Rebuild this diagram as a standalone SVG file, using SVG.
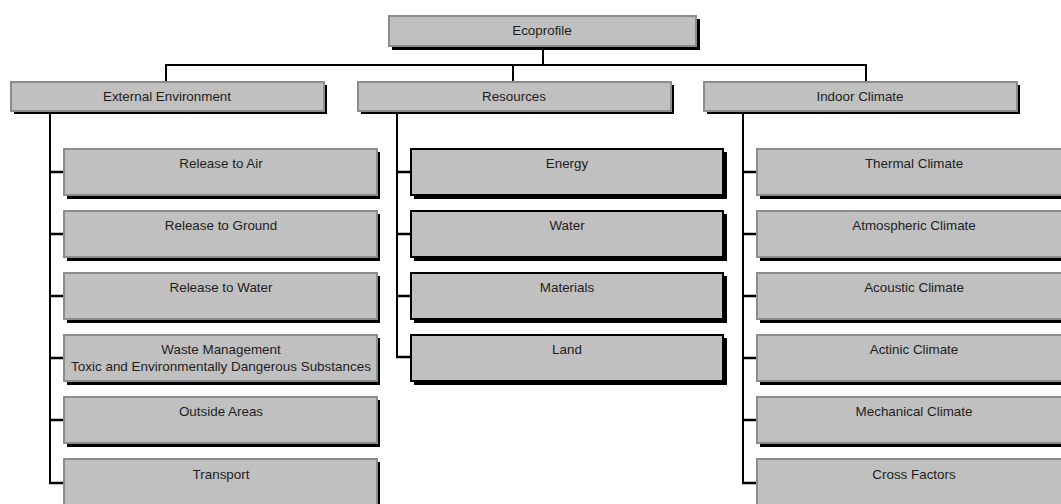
<svg xmlns="http://www.w3.org/2000/svg" width="1061" height="504" viewBox="0 0 1061 504">
<style>
.sh{fill:#000}
.bx{fill:#c0c0c0;stroke:#8c8c8c;stroke-width:2}
.bk{fill:#c0c0c0;stroke:#000;stroke-width:2}
.t{font-family:"Liberation Sans",Arial,sans-serif;font-size:13.4px;fill:#1e1e1e;text-anchor:middle}
.c{stroke:#000;stroke-width:2;fill:none}
.b{stroke:#000;stroke-width:2.6;fill:none}
</style>
<rect width="1061" height="504" fill="#fff"/>
<g id="connectors">
<path class="c" d="M543 47V65M166 65H866M166 64V82M513 64V82M866 64V82"/>
<path class="c" d="M50 112V484M397 112V357M743 112V484"/>
<path class="b" d="M49 172H64M49 234H64M49 296H64M49 358H64M49 420H64M49 483H64"/>
<path class="b" d="M396 172H411M396 234H411M396 296H411M396 357H411"/>
<path class="b" d="M742 172H757M742 234H757M742 296H757M742 358H757M742 420H757M742 483H757"/>
</g>
<g id="ecoprofile"><rect class="sh" x="392" y="19" width="308" height="31"/><rect class="bx" x="389" y="16" width="307" height="30"/><text class="t" x="542" y="35">Ecoprofile</text></g>
<g id="external"><rect class="sh" x="14" y="85" width="313" height="29"/><rect class="bx" x="11" y="82" width="313" height="29"/><text class="t" x="167" y="101">External Environment</text></g>
<g id="resources"><rect class="sh" x="361" y="85" width="313" height="29"/><rect class="bx" x="358" y="82" width="313" height="29"/><text class="t" x="514" y="101">Resources</text></g>
<g id="indoor"><rect class="sh" x="707" y="85" width="313" height="29"/><rect class="bx" x="704" y="82" width="313" height="29"/><text class="t" x="860" y="101">Indoor Climate</text></g>

<g id="air"><rect class="sh" x="67" y="152" width="313" height="47"/><rect class="bx" x="64" y="149" width="313" height="46"/><text class="t" x="221" y="168">Release to Air</text></g>
<g id="ground"><rect class="sh" x="67" y="214" width="313" height="47"/><rect class="bx" x="64" y="211" width="313" height="46"/><text class="t" x="221" y="230">Release to Ground</text></g>
<g id="waterrel"><rect class="sh" x="67" y="276" width="313" height="47"/><rect class="bx" x="64" y="273" width="313" height="46"/><text class="t" x="221" y="292">Release to Water</text></g>
<g id="waste"><rect class="sh" x="67" y="338" width="313" height="47"/><rect class="bx" x="64" y="335" width="313" height="46"/><text class="t" x="221" y="354">Waste Management</text><text class="t" x="221" y="371" textLength="300" lengthAdjust="spacingAndGlyphs">Toxic and Environmentally Dangerous Substances</text></g>
<g id="outside"><rect class="sh" x="67" y="400" width="313" height="47"/><rect class="bx" x="64" y="397" width="313" height="46"/><text class="t" x="221" y="416">Outside Areas</text></g>
<g id="transport"><rect class="sh" x="67" y="462" width="313" height="47"/><rect class="bx" x="64" y="459" width="313" height="46"/><text class="t" x="221" y="479">Transport</text></g>

<g id="energy"><rect class="sh" x="414" y="152" width="313" height="47"/><rect class="bk" x="411" y="149" width="312" height="46"/><text class="t" x="567" y="168">Energy</text></g>
<g id="water"><rect class="sh" x="414" y="214" width="313" height="47"/><rect class="bk" x="411" y="211" width="312" height="46"/><text class="t" x="567" y="230">Water</text></g>
<g id="materials"><rect class="sh" x="414" y="276" width="313" height="47"/><rect class="bk" x="411" y="273" width="312" height="46"/><text class="t" x="567" y="292">Materials</text></g>
<g id="land"><rect class="sh" x="414" y="338" width="313" height="47"/><rect class="bk" x="411" y="335" width="312" height="46"/><text class="t" x="567" y="354">Land</text></g>

<g id="thermal"><rect class="sh" x="760" y="152" width="313" height="47"/><rect class="bx" x="757" y="149" width="313" height="46"/><text class="t" x="914" y="168">Thermal Climate</text></g>
<g id="atmospheric"><rect class="sh" x="760" y="214" width="313" height="47"/><rect class="bx" x="757" y="211" width="313" height="46"/><text class="t" x="914" y="230">Atmospheric Climate</text></g>
<g id="acoustic"><rect class="sh" x="760" y="276" width="313" height="47"/><rect class="bx" x="757" y="273" width="313" height="46"/><text class="t" x="914" y="292">Acoustic Climate</text></g>
<g id="actinic"><rect class="sh" x="760" y="338" width="313" height="47"/><rect class="bx" x="757" y="335" width="313" height="46"/><text class="t" x="914" y="354">Actinic Climate</text></g>
<g id="mechanical"><rect class="sh" x="760" y="400" width="313" height="47"/><rect class="bx" x="757" y="397" width="313" height="46"/><text class="t" x="914" y="416">Mechanical Climate</text></g>
<g id="cross"><rect class="sh" x="760" y="462" width="313" height="47"/><rect class="bx" x="757" y="459" width="313" height="46"/><text class="t" x="914" y="479">Cross Factors</text></g>
</svg>
